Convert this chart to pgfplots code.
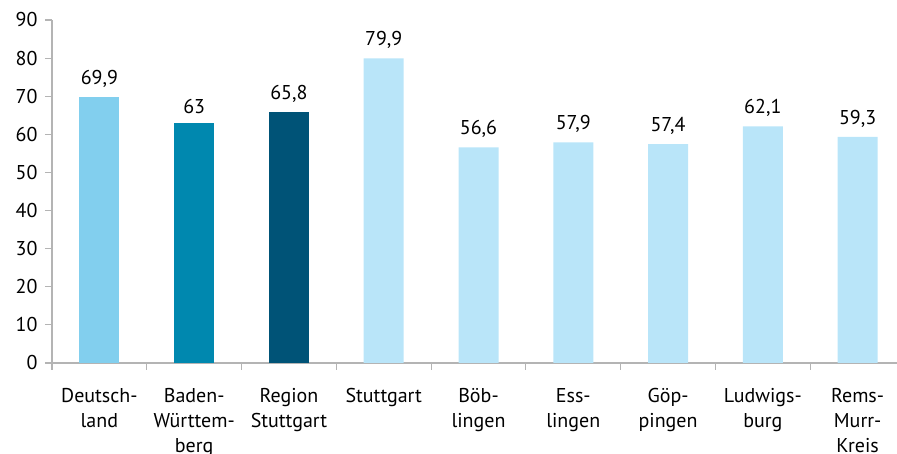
\documentclass[border=0pt]{standalone}
\usepackage{fontspec}
\setmainfont{PT Sans}
\usepackage{pgfplots}
\pgfplotsset{compat=1.18}
\definecolor{cDE}{HTML}{82CFEE}
\definecolor{cBW}{HTML}{0088AF}
\definecolor{cRS}{HTML}{005377}
\definecolor{cKR}{HTML}{B9E5F9}
\definecolor{axgray}{HTML}{B4B4B4}
\begin{document}
\begin{tikzpicture}
\path[use as bounding box] (-52pt,-91pt) rectangle (845pt,363pt);
\clip (-52pt,-91pt) rectangle (845pt,363pt);
\begin{axis}[
  at={(0pt,0pt)}, anchor=south west,
  scale only axis, width=853pt, height=343pt,
  xmin=-0.5, xmax=8.5, ymin=0, ymax=90,
  axis x line*=bottom, axis y line*=left,
  axis line style={axgray, line width=1.2pt, -},
  ytick={0,10,...,90},
  xtick={0,...,8},
  xticklabels={{Deutsch-\\land},{Baden-\\Württem-\\berg},{Region\\Stuttgart},{Stuttgart},{Böb-\\lingen},{Ess-\\lingen},{Göp-\\pingen},{Ludwigs-\\burg},{Rems-\\Murr-\\Kreis}},
  xticklabel style={align=center, anchor=north, yshift=-15pt, text depth=0pt},
  x tick label style={font=\fontsize{20}{25}\selectfont},
  major x tick style={draw=none},
  minor xtick={-0.5,0.5,...,8.5},
  minor tick length=7pt,
  minor x tick style={axgray, line width=1.2pt},
  major tick length=7pt,
  ytick style={axgray, line width=1.2pt},
  tick align=outside,
  yticklabel style={font=\fontsize{20}{22}\selectfont, xshift=-4pt},
  /pgf/number format/assume math mode=true,
  /pgf/number format/use comma,
  ymajorgrids=false,
  clip=false,
  nodes near coords,
  every node near coord/.append style={font=\fontsize{20}{22}\selectfont, text=black, yshift=6pt},
  bar width=40pt,
]
\addplot[ybar, fill=cDE, draw=none] coordinates {(0,69.9)};
\addplot[ybar, fill=cBW, draw=none] coordinates {(1,63)};
\addplot[ybar, fill=cRS, draw=none] coordinates {(2,65.8)};
\addplot[ybar, fill=cKR, draw=none] coordinates {(3,79.9) (4,56.6) (5,57.9) (6,57.4) (7,62.1) (8,59.3)};
\end{axis}
\end{tikzpicture}
\end{document}
